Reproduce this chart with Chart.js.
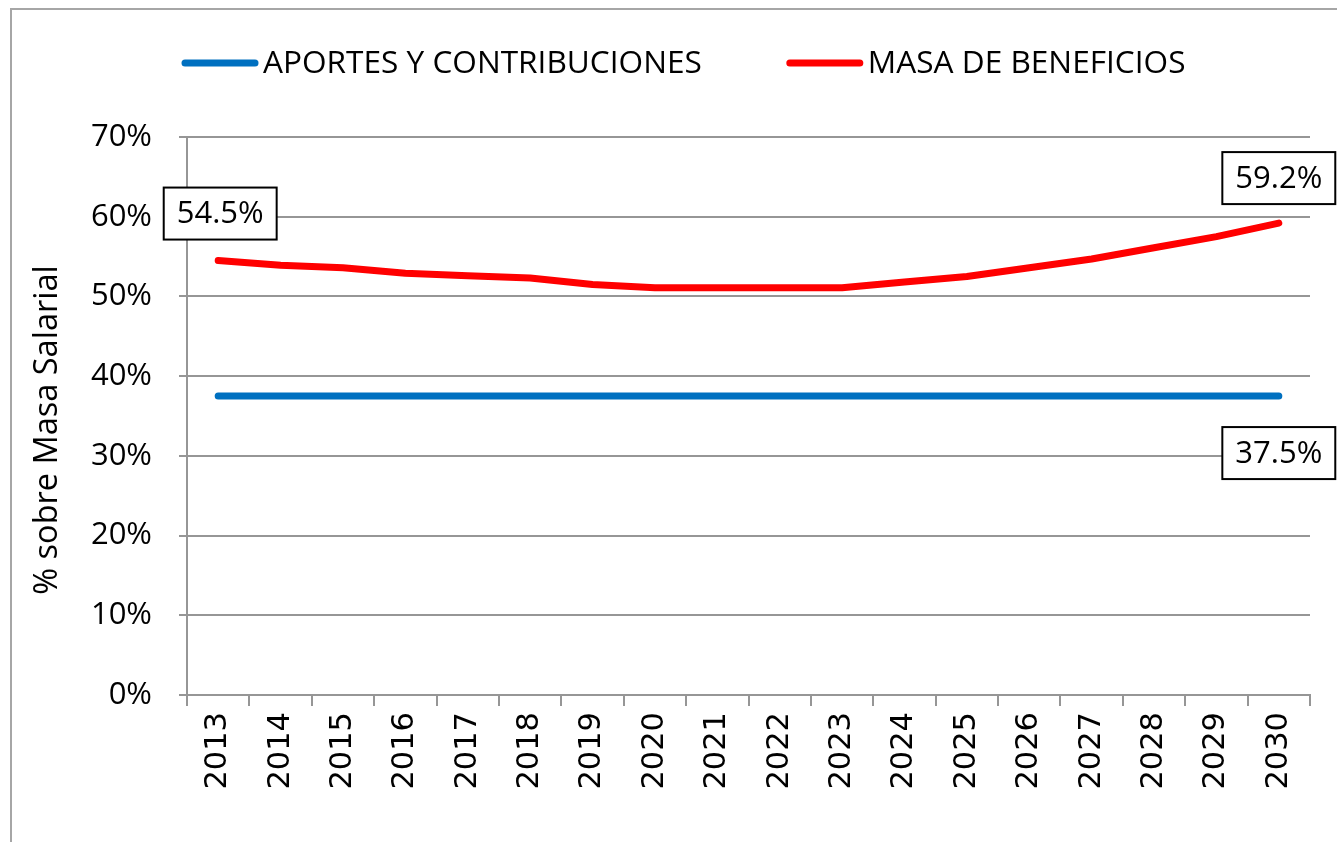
<!DOCTYPE html>
<html>
<head>
<meta charset="utf-8">
<script src="https://cdn.jsdelivr.net/npm/chart.js@4.4.1/dist/chart.umd.min.js"></script>
<style>
  html, body { margin: 0; padding: 0; background: #fff; overflow: hidden; }
  #frame { position: absolute; left: 10px; top: 8px; width: 1400px; height: 900px; border: 2px solid #a6a6a6; }
  #wrap { position: absolute; left: 0; top: 0; width: 1337px; height: 842px; }
</style>
</head>
<body>
<div id="frame"></div>
<div id="wrap"><canvas id="chart"></canvas></div>
<script>
// Datos (% sobre masa salarial)
const years = ['2013','2014','2015','2016','2017','2018','2019','2020','2021','2022','2023','2024','2025','2026','2027','2028','2029','2030'];
const aportes = [37.5, 37.5, 37.5, 37.5, 37.5, 37.5, 37.5, 37.5, 37.5, 37.5, 37.5, 37.5, 37.5, 37.5, 37.5, 37.5, 37.5, 37.5];
const beneficios = [54.5, 53.9, 53.6, 52.9, 52.6, 52.3, 51.5, 51.1, 51.1, 51.1, 51.1, 51.8, 52.5, 53.6, 54.7, 56.1, 57.5, 59.2];
const seriesNames = ['APORTES Y CONTRIBUCIONES', 'MASA DE BENEFICIOS'];
const yTicks = [0, 10, 20, 30, 40, 50, 60, 70];
const yTitle = '% sobre Masa Salarial';

const FONT = '"Open Sans", "Liberation Sans", sans-serif';
const GRID = '#969696';

// Leyenda dibujada a mano (línea gruesa + texto)
const legendPlugin = {
  id: 'lineLegend',
  afterDraw(chart, _a, opts) {
    const ctx = chart.ctx;
    let x = opts.x;
    ctx.save();
    ctx.font = '31.6px ' + FONT;
    ctx.textBaseline = 'middle';
    ctx.textAlign = 'left';
    chart.data.datasets.forEach(ds => {
      ctx.strokeStyle = ds.borderColor;
      ctx.lineWidth = 7;
      ctx.lineCap = 'round';
      ctx.beginPath();
      ctx.moveTo(x + 3, opts.y);
      ctx.lineTo(x + opts.lineLen - 3, opts.y);
      ctx.stroke();
      x += opts.lineLen + opts.textGap;
      ctx.fillStyle = '#000';
      ctx.fillText(ds.label, x, opts.y + 1);
      x += ctx.measureText(ds.label).width + opts.itemGap;
    });
    ctx.restore();
  }
};

// Título del eje Y (un poco por debajo del centro, como en el original)
const yTitlePlugin = {
  id: 'yTitle',
  afterDraw(chart, _a, opts) {
    const ctx = chart.ctx;
    ctx.save();
    ctx.translate(opts.x, opts.y);
    ctx.rotate(-Math.PI / 2);
    ctx.font = '32.5px ' + FONT;
    ctx.fillStyle = '#000';
    ctx.textAlign = 'center';
    ctx.textBaseline = 'middle';
    ctx.fillText(opts.text, 0, 0);
    ctx.restore();
  }
};

// Etiquetas con recuadro en puntos concretos
const boxLabels = {
  id: 'boxLabels',
  afterDatasetsDraw(chart, _a, opts) {
    const ctx = chart.ctx;
    ctx.save();
    ctx.font = '31px ' + FONT;
    ctx.textAlign = 'center';
    ctx.textBaseline = 'middle';
    opts.items.forEach(it => {
      const pt = chart.getDatasetMeta(it.ds).data[it.i];
      const v = chart.data.datasets[it.ds].data[it.i];
      const txt = v.toFixed(1) + '%';
      const w = ctx.measureText(txt).width + 26, h = 52;
      const cx = pt.x + (it.dx || 0), cy = pt.y + it.dy;
      ctx.fillStyle = '#fff';
      ctx.fillRect(cx - w / 2, cy - h / 2, w, h);
      ctx.strokeStyle = '#000';
      ctx.lineWidth = 2;
      ctx.strokeRect(cx - w / 2, cy - h / 2, w, h);
      ctx.fillStyle = '#000';
      ctx.fillText(txt, cx, cy + 1);
    });
    ctx.restore();
  }
};

new Chart(document.getElementById('chart'), {
  type: 'line',
  data: {
    labels: years,
    datasets: [
      { label: seriesNames[0], data: aportes, borderColor: '#0070C0', backgroundColor: '#0070C0', borderWidth: 7, borderCapStyle: 'round', borderJoinStyle: 'round', pointRadius: 0, tension: 0 },
      { label: seriesNames[1], data: beneficios, borderColor: '#FF0000', backgroundColor: '#FF0000', borderWidth: 7, borderCapStyle: 'round', borderJoinStyle: 'round', pointRadius: 0, tension: 0 }
    ]
  },
  options: {
    responsive: true,
    maintainAspectRatio: false,
    animation: false,
    layout: { padding: { top: 137, right: 27, bottom: 0, left: 0 } },
    plugins: {
      legend: { display: false },
      tooltip: { enabled: false },
      lineLegend: { x: 182, y: 63, lineLen: 76, textGap: 5, itemGap: 85 },
      yTitle: { text: yTitle, x: 48, y: 430 },
      boxLabels: { items: [ { ds: 1, i: 0, dx: 2, dy: -47 }, { ds: 1, i: 17, dy: -45 }, { ds: 0, i: 17, dy: 57 } ] }
    },
    scales: {
      x: {
        offset: true,
        grid: { offset: true, drawOnChartArea: false, color: GRID, lineWidth: 2, tickLength: 11 },
        border: { color: GRID, width: 2 },
        ticks: { minRotation: 90, maxRotation: 90, padding: 6, color: '#000', font: { family: '"DejaVu Sans", sans-serif', size: 30.5 } },
        afterFit(s) { s.height = 147; }
      },
      y: {
        min: 0, max: 70,
        afterBuildTicks(s) { s.ticks = yTicks.map(v => ({ value: v })); },
        grid: { color: GRID, lineWidth: 2, tickLength: 8 },
        border: { color: GRID, width: 2 },
        ticks: { padding: 27, color: '#000', font: { family: FONT, size: 31 }, callback: v => v + '%' },
        afterFit(s) { s.width = 187; }
      }
    }
  },
  plugins: [legendPlugin, yTitlePlugin, boxLabels]
});
</script>
</body>
</html>
